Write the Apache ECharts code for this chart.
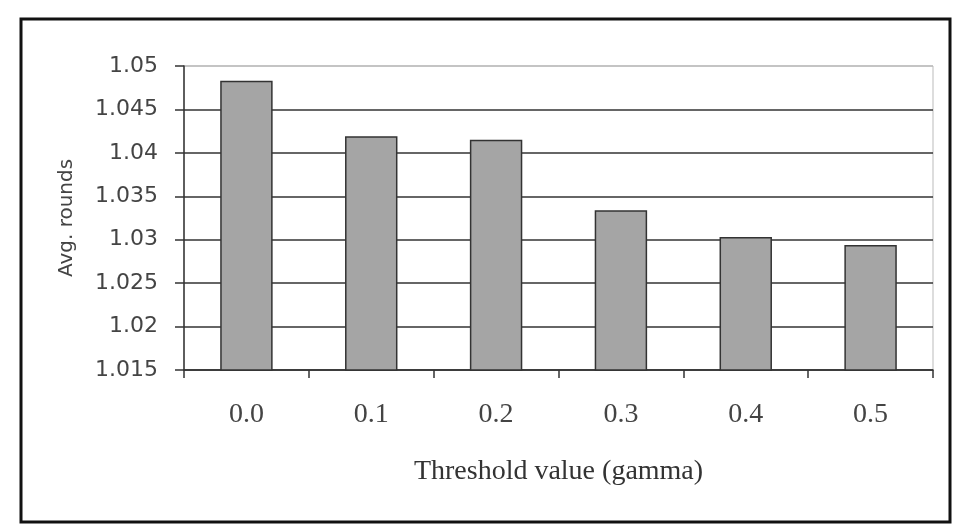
<!DOCTYPE html>
<html>
<head>
<meta charset="utf-8">
<script src="https://cdn.jsdelivr.net/npm/echarts@6/dist/echarts.min.js"></script>
<style>
  html, body { margin: 0; padding: 0; background: #fff; }
  #chart { width: 958px; height: 529px; }
</style>
</head>
<body>
<div id="chart"></div>
<script>
// Average rounds per threshold value
const categories = ['0.0', '0.1', '0.2', '0.3', '0.4', '0.5'];
const avgRounds = [1.0483, 1.0419, 1.0415, 1.0334, 1.0303, 1.0294];
const yMin = 1.015;
const yMax = 1.05;
const yStep = 0.005;

const chart = echarts.init(document.getElementById('chart'), null, { renderer: 'canvas' });

// gridlines: dark inside, light gray at the top edge of the plot area
const gridColors = ['#333', '#333', '#333', '#333', '#333', '#333', '#333', '#bbb'];

chart.setOption({
  backgroundColor: '#fff',
  animation: false,
  graphic: [
    {
      type: 'rect',
      shape: { x: 21, y: 19, width: 929, height: 503 },
      style: { fill: 'none', stroke: '#111', lineWidth: 3 },
      z: 10
    }
  ],
  grid: {
    left: 184, top: 66, right: 25, bottom: 159,
    show: true, borderColor: '#bbb', borderWidth: 1, backgroundColor: 'transparent'
  },
  xAxis: {
    type: 'category',
    data: categories,
    boundaryGap: true,
    axisLine: { lineStyle: { color: '#333', width: 1.5 } },
    axisTick: { show: true, inside: false, length: 8, lineStyle: { color: '#333', width: 1.5 } },
    axisLabel: {
      color: '#444', fontFamily: 'Liberation Serif', fontSize: 28, margin: 31
    },
    name: 'Threshold value (gamma)',
    nameLocation: 'middle',
    nameGap: 88,
    nameTextStyle: { color: '#333', fontFamily: 'Liberation Serif', fontSize: 28 }
  },
  yAxis: {
    type: 'value',
    min: yMin,
    max: yMax,
    interval: yStep,
    axisLine: { show: true, lineStyle: { color: '#333', width: 1.5 } },
    axisTick: { show: true, length: 9, lineStyle: { color: '#333', width: 1.5 } },
    splitLine: { show: true, lineStyle: { color: gridColors, width: 1.5 } },
    axisLabel: {
      color: '#444', fontFamily: 'DejaVu Sans', fontSize: 22, margin: 26,
      formatter: v => String(Number(v.toFixed(3)))
    },
    name: 'Avg. rounds',
    nameLocation: 'middle',
    nameGap: 107,
    nameRotate: 90,
    nameTextStyle: { color: '#444', fontFamily: 'DejaVu Sans', fontSize: 20 }
  },
  series: [
    {
      type: 'bar',
      data: avgRounds,
      barWidth: '42%',
      itemStyle: { color: '#a5a5a5', borderColor: '#333', borderWidth: 1.5 }
    }
  ]
});
</script>
</body>
</html>
